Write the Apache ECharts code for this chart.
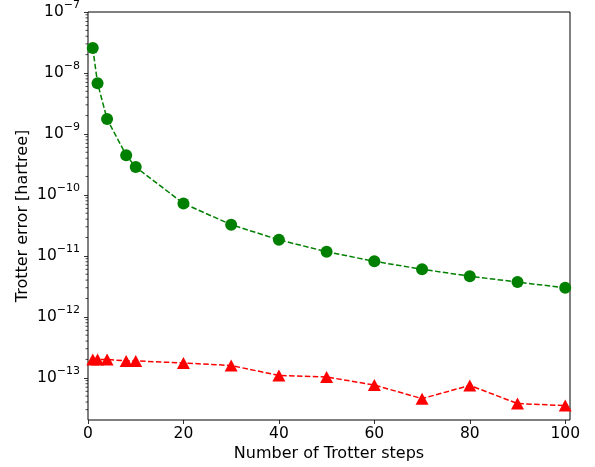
<!DOCTYPE html>
<html><head><meta charset="utf-8">
<script src="https://cdn.jsdelivr.net/npm/echarts@6/dist/echarts.min.js"></script>
<style>html,body{margin:0;padding:0;background:#fff}#c{width:595px;height:467px}</style>
</head><body><div id="c"></div>
<script>
const steps = [1, 2, 4, 8, 10, 20, 30, 40, 50, 60, 70, 80, 90, 100];
const errorGreen = [2.56e-8, 6.8e-9, 1.75e-9, 4.48e-10, 2.86e-10, 7.23e-11, 3.25e-11, 1.83e-11, 1.17e-11, 8.13e-12, 6.03e-12, 4.64e-12, 3.71e-12, 2.99e-12];
const errorRed = [2.0e-13, 2.0e-13, 2.0e-13, 1.89e-13, 1.89e-13, 1.75e-13, 1.59e-13, 1.09e-13, 1.03e-13, 7.6e-14, 4.55e-14, 7.5e-14, 3.78e-14, 3.5e-14];
const xTicks = [0, 20, 40, 60, 80, 100];
const yMajorTicks = [1e-13, 1e-12, 1e-11, 1e-10, 1e-9, 1e-8, 1e-7];
const minorMantissas = [2, 3, 4, 5, 6, 7, 8, 9];
const minorDecades = [1e-14, 1e-13, 1e-12, 1e-11, 1e-10, 1e-9, 1e-8];
const yMin = 2.03e-14, yMax = 1e-7;
const yMinorTicks = [];
minorDecades.forEach(d => minorMantissas.forEach(m => { const v = m * d; if (v > yMin && v < yMax) yMinorTicks.push(v); }));

const FONT = 'DejaVu Sans';
const chart = echarts.init(document.getElementById('c'), null, {renderer: 'canvas'});
chart.setOption({
  animation: false,
  backgroundColor: '#fff',
  grid: {left: 88, right: 25, top: 8, bottom: 47, show: true, borderColor: '#000', borderWidth: 1, backgroundColor: 'transparent'},
  xAxis: {
    type: 'value', min: 0, max: 101,
    name: 'Number of Trotter steps', nameLocation: 'middle', nameGap: 26, nameMoveOverlap: false,
    nameTextStyle: {fontFamily: FONT, fontSize: 16, color: '#000'},
    axisLine: {show: false},
    splitLine: {show: false},
    axisTick: {show: true, customValues: xTicks, length: 4, lineStyle: {color: '#000', width: 0.8}},
    axisLabel: {customValues: xTicks, margin: 6, fontFamily: FONT, fontSize: 15.5, color: '#000'}
  },
  yAxis: {
    type: 'log', logBase: 10, min: yMin, max: yMax,
    name: 'Trotter error [hartree]', nameLocation: 'middle', nameGap: 57, nameRotate: 90, nameMoveOverlap: false,
    nameTextStyle: {fontFamily: FONT, fontSize: 16, color: '#000'},
    axisLine: {show: false},
    splitLine: {show: false},
    axisTick: {show: true, customValues: yMajorTicks, length: 4, lineStyle: {color: '#000', width: 0.8}},
    axisLabel: {
      customValues: yMajorTicks, margin: 8,
      formatter: v => '{b|10}{s|\u2212' + (-Math.round(Math.log10(v))) + '}',
      rich: {
        b: {fontFamily: FONT, fontSize: 15.5, color: '#000', lineHeight: 24, verticalAlign: 'middle'},
        s: {fontFamily: FONT, fontSize: 11, color: '#000', lineHeight: 11, verticalAlign: 'top'}
      }
    }
  },
  series: [
    {
      type: 'line', data: steps.map((s, i) => [s, errorGreen[i]]),
      symbol: 'circle', symbolSize: 12,
      itemStyle: {color: '#008000'},
      lineStyle: {color: '#008000', width: 1.5, type: [5.5, 2.4]},
      z: 3, clip: false
    },
    {
      type: 'line', data: steps.map((s, i) => [s, errorRed[i]]),
      symbol: 'triangle', symbolSize: [13, 12],
      itemStyle: {color: '#ff0000'},
      lineStyle: {color: '#ff0000', width: 1.5, type: [5.5, 2.4]},
      z: 3, clip: false
    },
    {
      type: 'custom', silent: true, clip: false,
      data: yMinorTicks.map(v => [0, v]),
      encode: {x: 0, y: 1},
      renderItem: (params, api) => {
        const p = api.coord([0, api.value(1)]);
        return {type: 'line', shape: {x1: p[0] - 2.5, y1: p[1], x2: p[0], y2: p[1]}, style: {stroke: '#000', lineWidth: 0.7}};
      }
    }
  ]
});
</script></body></html>
